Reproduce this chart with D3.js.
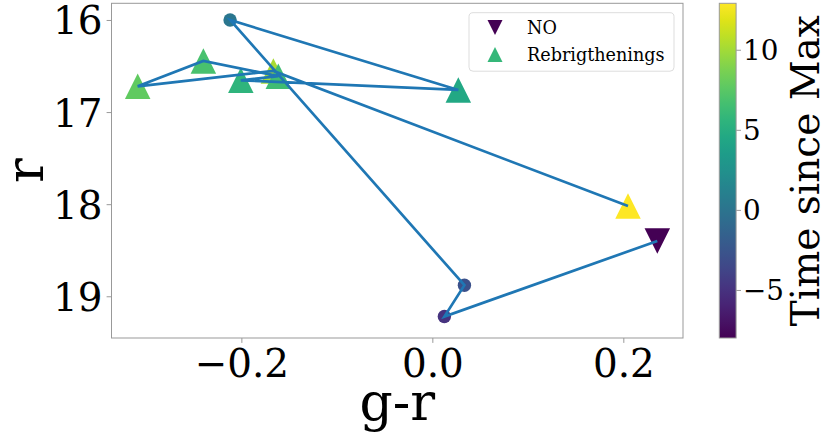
<!DOCTYPE html>
<html>
<head>
<meta charset="utf-8">
<script src="https://cdn.jsdelivr.net/npm/d3@7"></script>
<style>
  body { margin: 0; background: #fff; }
  text { font-family: "DejaVu Serif", serif; fill: #000; }
</style>
</head>
<body>
<svg id="chart" width="831" height="437"></svg>
<script>
// points in time order (the blue line joins them in this order)
var gr    = [0.2356, 0.0126, 0.0336, -0.2118, 0.0272, -0.2006, -0.1613, -0.2398, -0.3086, -0.1665, 0.2049];
var rmag  = [18.40, 19.22, 18.88, 16.00, 16.76, 16.655, 16.61, 16.445, 16.72, 16.554, 18.02];
var tmax  = [-8.0, -4.9, -2.8, 0.2, 4.5, 5.6, 6.4, 6.8, 7.8, 10.2, 12.9];
var kind  = ["NO", "dot", "dot", "dot", "rebr", "rebr", "rebr", "rebr", "rebr", "rebr", "rebr"];

var xTicks = [-0.2, 0.0, 0.2];
var yTicks = [16, 17, 18, 19];
var cTicks = [-5, 0, 5, 10];
var legendNames = ["NO", "Rebrigthenings"];

var svg = d3.select("#chart");

// plot box (window.top is read-only, so no "top" here)
var pL = 111.5, pR = 683, pT = 3.3, pB = 338;

var x = d3.scaleLinear().domain([-0.336, 0.2625]).range([pL, pR]);
var y = d3.scaleLinear().domain([15.819, 19.453]).range([pT, pB]);
var color = d3.scaleSequential(d3.interpolateViridis).domain(d3.extent(tmax));

var pts = gr.map(function(d, i){
  return {x: d, y: rmag[i], t: tmax[i], k: kind[i]};
});

// frame
svg.append("rect")
  .attr("x", pL).attr("y", pT)
  .attr("width", pR - pL).attr("height", pB - pT)
  .attr("fill", "none").attr("stroke", "#999").attr("stroke-width", 1);

var triPath = function(s){
  // triangle centred on its box, width and height s
  var h = s / 2;
  return "M0," + (-h) + "L" + h + "," + h + "L" + (-h) + "," + h + "Z";
};

// markers, drawn latest first so earlier ones sit on top
var marks = svg.append("g");
pts.slice().reverse().forEach(function(d){
  var px = x(d.x), py = y(d.y);
  if (d.k == "dot") {
    marks.append("circle").attr("cx", px).attr("cy", py).attr("r", 6.7)
      .attr("fill", color(d.t));
  } else {
    marks.append("path").attr("d", triPath(25.5))
      .attr("transform", "translate(" + px + "," + py + ")" + (d.k == "NO" ? " rotate(180)" : ""))
      .attr("fill", color(d.t));
  }
});

// line on top
var line = d3.line().x(function(d){ return x(d.x); }).y(function(d){ return y(d.y); });
svg.append("path").datum(pts)
  .attr("d", line)
  .attr("fill", "none")
  .attr("stroke", "#1f77b4")
  .attr("stroke-width", 2.7);

// axes
var xAxis = svg.append("g").attr("transform", "translate(0," + pB + ")")
  .call(d3.axisBottom(x).tickValues(xTicks).tickFormat(d3.format(".1f")).tickSize(4.9).tickPadding(6));
var yAxis = svg.append("g").attr("transform", "translate(" + pL + ",0)")
  .call(d3.axisLeft(y).tickValues(yTicks).tickFormat(d3.format("d")).tickSize(4.9).tickPadding(4));
[xAxis, yAxis].forEach(function(a){
  a.select(".domain").remove();
  a.selectAll(".tick line").attr("stroke", "#999");
  a.selectAll(".tick text").style("font-family", "DejaVu Serif").style("font-size", "38.9px");
});
xAxis.selectAll(".tick text").attr("dy", "0.71em");
yAxis.selectAll(".tick text").attr("dy", "0.36em");

svg.append("text").attr("x", (pL + pR) / 2).attr("y", 420)
  .attr("text-anchor", "middle").style("font-size", "52px").text("g-r");
svg.append("text")
  .attr("transform", "translate(43," + ((pT + pB) / 2) + ") rotate(-90)")
  .attr("text-anchor", "middle").style("font-size", "52px").text("r");

// legend
var lg = svg.append("g");
lg.append("rect").attr("x", 469).attr("y", 12.7).attr("width", 205).attr("height", 58.5)
  .attr("rx", 4).attr("fill", "#fff").attr("fill-opacity", 0.8)
  .attr("stroke", "#ddd").attr("stroke-width", 1);
lg.append("path").attr("d", triPath(15))
  .attr("transform", "translate(495,27.5) rotate(180)").attr("fill", color(d3.min(tmax)));
lg.append("path").attr("d", triPath(15))
  .attr("transform", "translate(495,54.5)").attr("fill", "#35b779");
legendNames.forEach(function(n, i){
  lg.append("text").attr("x", 527).attr("y", 33.5 + i * 27)
    .style("font-size", "17.6px").text(n);
});

// colorbar
var cbX = 719.3, cbW = 16.8;
var cy = d3.scaleLinear().domain(d3.extent(tmax)).range([pB, pT]);
var grad = svg.append("defs").append("linearGradient").attr("id", "vir")
  .attr("x1", 0).attr("y1", 1).attr("x2", 0).attr("y2", 0);
d3.range(0, 1.0001, 0.05).forEach(function(s){
  grad.append("stop").attr("offset", s).attr("stop-color", d3.interpolateViridis(s));
});
svg.append("rect").attr("x", cbX).attr("y", pT).attr("width", cbW).attr("height", pB - pT)
  .attr("fill", "url(#vir)").attr("stroke", "#999").attr("stroke-width", 1);
var cAxis = svg.append("g").attr("transform", "translate(" + (cbX + cbW) + ",0)")
  .call(d3.axisRight(cy).tickValues(cTicks).tickFormat(d3.format("d")).tickSize(4.9).tickPadding(2));
cAxis.select(".domain").remove();
cAxis.selectAll(".tick line").attr("stroke", "#999");
cAxis.selectAll(".tick text").style("font-family", "DejaVu Serif").style("font-size", "27.8px").attr("dy", "0.36em");

svg.append("text")
  .attr("transform", "translate(819," + ((pT + pB) / 2) + ") rotate(-90)")
  .attr("text-anchor", "middle").style("font-size", "39px").text("Time since Max");
</script>
</body>
</html>
